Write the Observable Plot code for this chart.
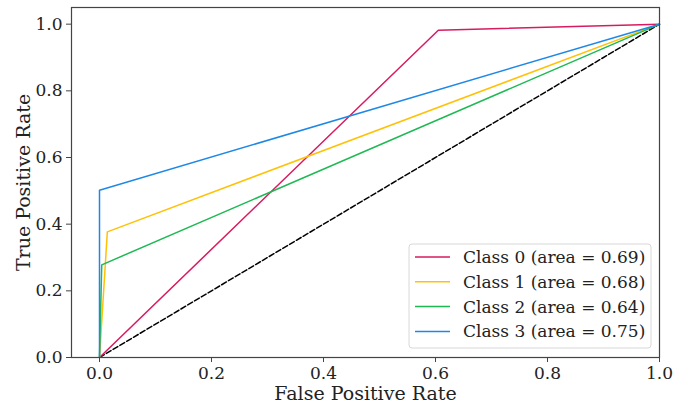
<!DOCTYPE html>
<html><head><meta charset="utf-8">
<script src="https://cdn.jsdelivr.net/npm/d3@7"></script>
<script src="https://cdn.jsdelivr.net/npm/@observablehq/plot@0.6"></script>
<style>body{margin:0;background:#fff}</style>
</head><body><div id="chart"></div>
<script>
const classes = ["Class 0", "Class 1", "Class 2", "Class 3"];
const areas = [0.69, 0.68, 0.64, 0.75];
const fpr = [[0, 0.605, 1], [0, 0.014, 1], [0, 0.004, 1], [0, 0, 1]];
const tpr = [[0, 0.982, 1], [0, 0.377, 1], [0, 0.278, 1], [0, 0.502, 1]];
const colors = ["#d81b60", "#ffc107", "#1eb954", "#1e88e5"];
const diagX = [0, 1];
const diagY = [0, 1];
const ticks = [0, 0.2, 0.4, 0.6, 0.8, 1.0];

const rows = classes.flatMap((c, i) => fpr[i].map((x, j) => ({cls: c, x, y: tpr[i][j]})));
const diag = diagX.map((x, i) => ({x, y: diagY[i]}));

const W = 684, H = 404;
const plot = Plot.plot({
  width: W, height: H,
  marginLeft: 71, marginRight: 25, marginTop: 7, marginBottom: 47,
  style: {fontFamily: "DejaVu Serif", fontSize: "17px", background: "#fff", color: "#222"},
  x: {domain: [-0.05, 1.0]},
  y: {domain: [0, 1.05]},
  color: {domain: classes, range: colors},
  marks: [
    Plot.line(diag, {x: "x", y: "y", stroke: "black", strokeWidth: 1.5, strokeDasharray: "5.5,2.4"}),
    Plot.line(rows, {x: "x", y: "y", z: "cls", stroke: "cls", strokeWidth: 1.5}),
    Plot.frame({stroke: "#444", strokeWidth: 1.2}),
    Plot.axisX({ticks, tickFormat: ".1f", tickSize: 5, tickPadding: 4, label: "False Positive Rate", labelAnchor: "center", labelArrow: "none", labelOffset: 42, fontSize: 17, stroke: "#444"}),
    Plot.axisY({ticks, tickFormat: ".1f", tickSize: 5, tickPadding: 4, label: "True Positive Rate", labelAnchor: "center", labelArrow: "none", labelOffset: 55, fontSize: 17, stroke: "#444"})
  ]
});
document.getElementById("chart").appendChild(plot);

const svg = d3.select(plot);
svg.selectAll("text").style("font-family", "'DejaVu Serif', serif");
svg.selectAll("g[aria-label='x-axis label'] text, g[aria-label='y-axis label'] text").style("font-size", "19px");

// legend
const lg = svg.append("g").attr("aria-label", "legend");
const lx = 409, ly = 244, lw = 242, lh = 104;
lg.append("rect").attr("x", lx).attr("y", ly).attr("width", lw).attr("height", lh)
  .attr("rx", 3).attr("fill", "white").attr("fill-opacity", 0.8).attr("stroke", "#d8d8d8");
classes.forEach((c, i) => {
  const yy = ly + 13 + i * 24.8;
  lg.append("line").attr("x1", lx + 6).attr("x2", lx + 41).attr("y1", yy).attr("y2", yy)
    .attr("stroke", colors[i]).attr("stroke-width", 1.5);
  lg.append("text").attr("x", lx + 54).attr("y", yy).attr("dy", "0.35em")
    .attr("text-anchor", "start")
    .style("font-family", "'DejaVu Serif', serif").style("font-size", "17px").attr("fill", "#222")
    .text(`${c} (area = ${areas[i].toFixed(2)})`);
});
</script></body></html>
